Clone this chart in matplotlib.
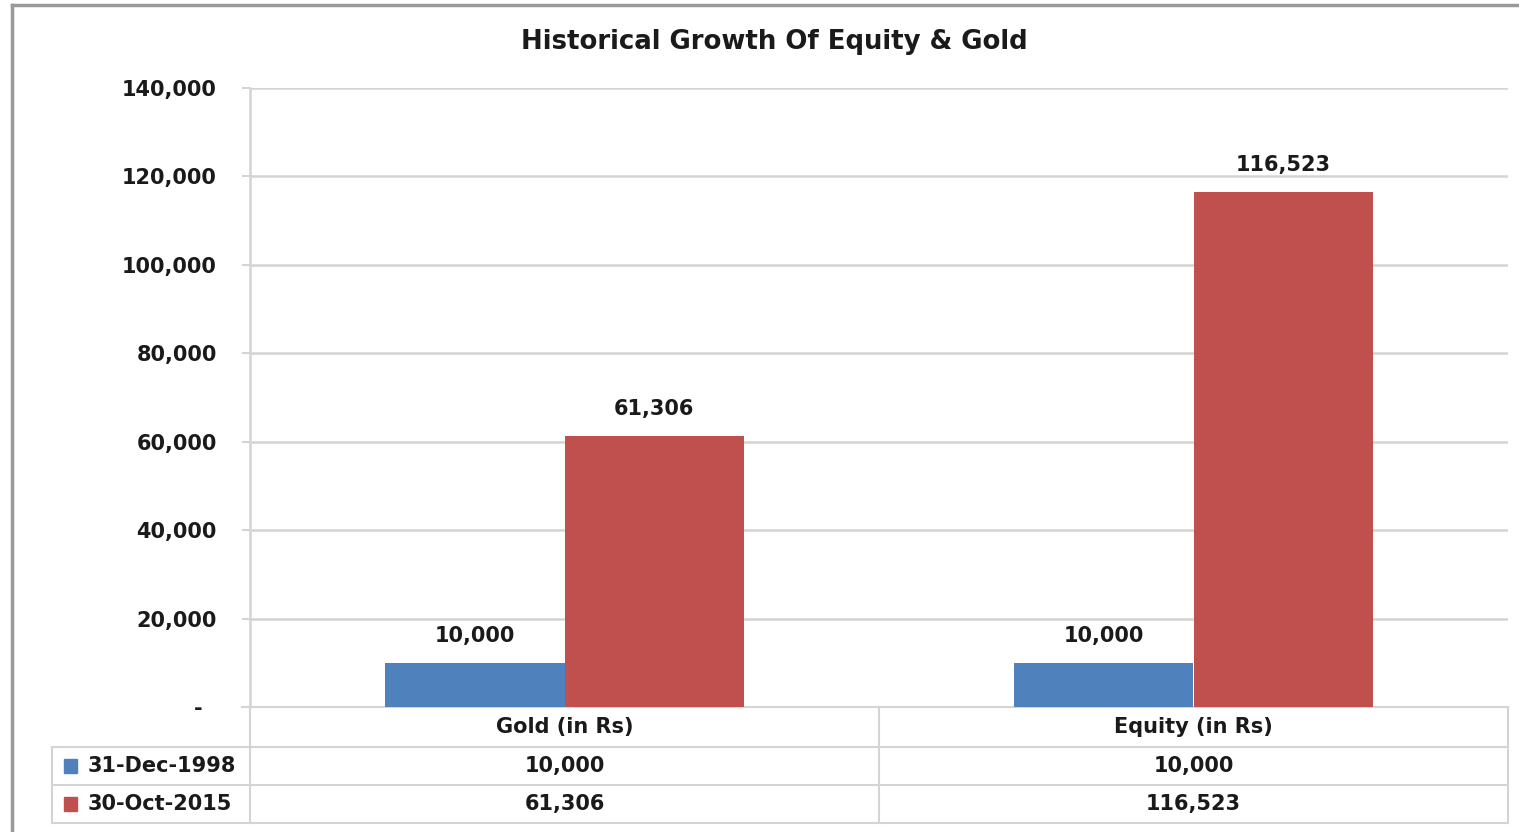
import matplotlib
matplotlib.use("Agg")
import matplotlib.pyplot as plt
from matplotlib.lines import Line2D
from matplotlib.ticker import FuncFormatter
import matplotlib.transforms as mtransforms

categories = ["Gold (in Rs)", "Equity (in Rs)"]
series_names = ["31-Dec-1998", "30-Oct-2015"]
values_1998 = [10000, 10000]
values_2015 = [61306, 116523]
colors = ["#4F81BD", "#C0504D"]
title = "Historical Growth Of Equity & Gold"
yticks = [0, 20000, 40000, 60000, 80000, 100000, 120000, 140000]

plt.rcParams['font.family'] = ['DejaVu Sans']
TXT = "#1a1a1a"
GRID = "#d4d4d4"
FS = 15

W, H = 1519, 832
fig = plt.figure(figsize=(W / 100, H / 100), dpi=100)
fig.patch.set_facecolor("white")

def fx(px):
    return px / W

def fy(py):
    return 1 - py / H

# outer chart border (left and top)
fig.add_artist(Line2D([fx(12), fx(12)], [fy(5), fy(832)], color="#9a9a9a", lw=2.5))
fig.add_artist(Line2D([fx(12), fx(1519)], [fy(5), fy(5)], color="#9a9a9a", lw=2.5))

ax_left, ax_right, ax_top, ax_bottom = 250, 1508, 88, 707
ax = fig.add_axes([fx(ax_left), fy(ax_bottom), (ax_right - ax_left) / W, (ax_bottom - ax_top) / H])

n = len(categories)
xs = list(range(n))
bw = 0.285
bars = [values_1998, values_2015]
offsets = [-bw / 2, bw / 2]
for vals, off, c in zip(bars, offsets, colors):
    rects = ax.bar([x + off for x in xs], vals, width=bw, color=c, zorder=3)
    for r, v in zip(rects, vals):
        ax.annotate(f"{v:,}", (r.get_x() + r.get_width() / 2, v), xytext=(0, 27),
                    textcoords="offset pixels", ha="center", va="center",
                    fontsize=FS, fontweight="bold", color=TXT)

ax.set_xlim(-0.5, n - 0.5)
ax.set_ylim(0, 140000)
ax.set_yticks(yticks)
ax.yaxis.set_major_formatter(FuncFormatter(lambda v, p: "-  " if v == 0 else f"{int(v):,}"))
ax.tick_params(axis="y", length=5.8, width=1.5, color=GRID, pad=18, labelsize=FS, labelcolor=TXT)
for lab in ax.get_yticklabels():
    lab.set_fontweight("bold")
ax.set_xticks([])
ax.grid(axis="y", color=GRID, lw=1.8, zorder=0)
for s in ["top", "right", "bottom"]:
    ax.spines[s].set_visible(False)
ax.spines["left"].set_color(GRID)
ax.spines["left"].set_linewidth(1.8)

fig.text(fx(774), fy(42), title, ha="center", va="center", fontsize=18.7,
         fontweight="bold", color=TXT)

# data table below the axis
tr = mtransforms.blended_transform_factory(ax.transData, ax.transAxes)
tra = ax.transAxes
hpx = ax_bottom - ax_top
def ay(py):
    return (ax_bottom - py) / hpx
def axx(px):
    return (px - ax_left) / (ax_right - ax_left)

row_edges = [707, 747, 785, 823]
lw = 1.5
ax.add_line(Line2D([axx(242), 1], [ay(707), ay(707)], transform=tra, color=GRID, lw=lw, clip_on=False))
for y in row_edges[1:]:
    ax.add_line(Line2D([axx(52), 1], [ay(y), ay(y)], transform=tra, color=GRID, lw=lw, clip_on=False))
ax.add_line(Line2D([axx(52), axx(52)], [ay(747), ay(823)], transform=tra, color=GRID, lw=lw, clip_on=False))
ax.add_line(Line2D([0, 0], [ay(707), ay(823)], transform=tra, color=GRID, lw=lw, clip_on=False))
ax.add_line(Line2D([1, 1], [ay(707), ay(823)], transform=tra, color=GRID, lw=lw, clip_on=False))
for i in range(1, n):
    ax.add_line(Line2D([i - 0.5, i - 0.5], [ay(707), ay(823)], transform=tr, color=GRID, lw=lw, clip_on=False))

centers = [(row_edges[i] + row_edges[i + 1]) / 2 for i in range(3)]
for x, cat in zip(xs, categories):
    ax.text(x, ay(centers[0]), cat, transform=tr, ha="center", va="center",
            fontsize=FS, fontweight="bold", color=TXT, clip_on=False)
for r, (vals, name, c) in enumerate(zip(bars, series_names, colors)):
    yc = ay(centers[r + 1])
    for x, v in zip(xs, vals):
        ax.text(x, yc, f"{v:,}", transform=tr, ha="center", va="center",
                fontsize=FS, fontweight="bold", color=TXT, clip_on=False)
    ax.add_patch(plt.Rectangle((axx(64), yc - 0.011), axx(77) - axx(64), 0.022,
                               transform=tra, color=c, clip_on=False))
    ax.text(axx(88), yc, name, transform=tra, ha="left", va="center",
            fontsize=FS, fontweight="bold", color=TXT, clip_on=False)

fig.savefig("out.png", dpi=100, facecolor="white")
